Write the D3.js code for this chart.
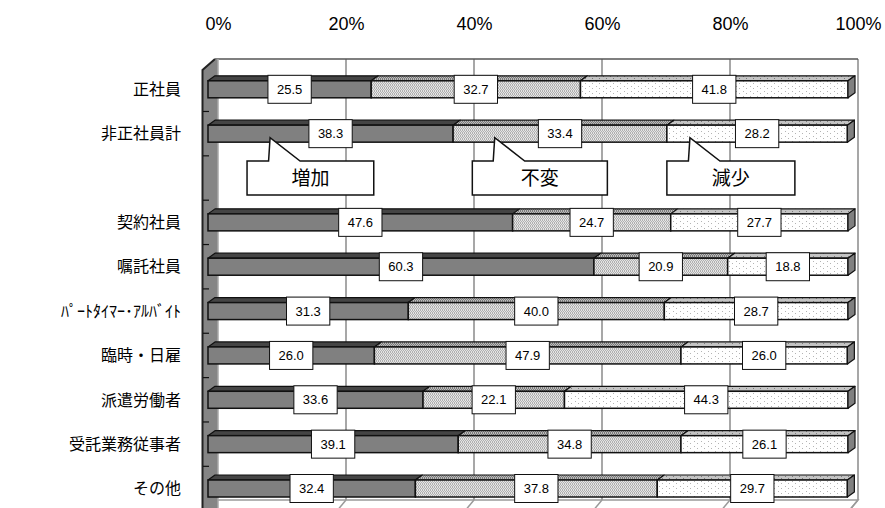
<!DOCTYPE html>
<html><head><meta charset="utf-8">
<script src="https://cdn.jsdelivr.net/npm/d3@7"></script>
<style>html,body{margin:0;padding:0;background:#fff;}svg{display:block;}</style>
</head><body>
<svg id="c" width="885" height="508"></svg>
<script>
// ---- data ----
const categories = ["正社員","非正社員計","契約社員","嘱託社員","ﾊﾟｰﾄﾀｲﾏｰ･ｱﾙﾊﾞｲﾄ","臨時・日雇","派遣労働者","受託業務従事者","その他"];
const seriesNames = ["増加","不変","減少"];
const increase = [25.5,38.3,47.6,60.3,31.3,26.0,33.6,39.1,32.4];
const unchanged = [32.7,33.4,24.7,20.9,40.0,47.9,22.1,34.8,37.8];
const decrease = [41.8,28.2,27.7,18.8,28.7,26.0,44.3,26.1,29.7];
const tickValues = [0,20,40,60,80,100];
const rowSlots = [0,1,3,4,5,6,7,8,9]; // slot 2 is left empty for the callouts

// ---- layout ----
const svg = d3.select("#c");
const DX = 10, DYF = 12;          // depth of the back plane
const BDX = 7, BDY = 5;           // depth of the bars
const x = d3.scaleLinear().domain([0,100]).range([208,848]);   // front plane
const xb = v => x(v) + DX;                                      // back plane
const y = d3.scaleLinear().domain([0,9]).range([89.3,488.5]);   // slot centres
const BAR_H = 17;
const TOP = 59, FLOOR = 500;

// patterns
const defs = svg.append("defs");
function pat(id, w, h, bg, dots, dc){
  const p = defs.append("pattern").attr("id",id).attr("patternUnits","userSpaceOnUse").attr("width",w).attr("height",h);
  p.append("rect").attr("width",w).attr("height",h).attr("fill",bg);
  dots.forEach(d=>p.append("rect").attr("x",d[0]).attr("y",d[1]).attr("width",1).attr("height",1).attr("fill",dc));
}
pat("sameF",2,3,"#e4e4e4",[[0,0],[0,1],[1,2]],"#b0b0b0");
pat("sameT",2,3,"#bcbcbc",[[0,0],[0,1],[1,2]],"#7a7a7a");
pat("decF",7,5,"#ffffff",[[1,1],[4,3]],"#b4b4b4");
pat("decT",7,5,"#c4c4c4",[[1,1],[4,3]],"#7a7a7a");
const frontFill = ["#808080","url(#sameF)","url(#decF)"];
const topFill = ["#454545","url(#sameT)","url(#decT)"];

// back plane
svg.append("rect").attr("x",xb(0)).attr("y",TOP).attr("width",xb(100)-xb(0)).attr("height",FLOOR-TOP).attr("fill","#fff");
// gridlines
svg.append("g").selectAll("line").data(tickValues.filter(t=>t>0)).join("line")
  .attr("x1",d=>xb(d)).attr("x2",d=>xb(d)).attr("y1",TOP).attr("y2",FLOOR)
  .attr("stroke","#8a8a8a").attr("stroke-width",1.5);
// floor
svg.append("path").attr("d",`M${xb(0)},${FLOOR}L${xb(100)},${FLOOR}L${x(100)},${FLOOR+DYF}L${x(0)},${FLOOR+DYF}Z`)
  .attr("fill","#fff").attr("stroke","#9a9a9a").attr("stroke-width",1.5);
svg.append("g").selectAll("line").data(tickValues).join("line")
  .attr("x1",d=>xb(d)).attr("x2",d=>x(d)).attr("y1",FLOOR).attr("y2",FLOOR+DYF)
  .attr("stroke","#9a9a9a").attr("stroke-width",1.5);
// top edge
svg.append("line").attr("x1",215).attr("x2",xb(100)).attr("y1",TOP).attr("y2",TOP).attr("stroke","#555").attr("stroke-width",1.5);

// left wall
svg.append("path").attr("d",`M202,70L215,${TOP}L${xb(0)},${TOP}L${xb(0)},520L202,520Z`)
  .attr("fill","#858585").attr("stroke","none");
svg.append("line").attr("x1",xb(0)).attr("x2",xb(0)).attr("y1",TOP).attr("y2",520).attr("stroke","#a8a8a8").attr("stroke-width",1.5);
svg.append("path").attr("d",`M202.5,520L202.5,70L215,${TOP}`).attr("fill","none").attr("stroke","#222").attr("stroke-width",2);
svg.append("g").selectAll("line").data(d3.range(9)).join("line")
  .attr("x1",203).attr("x2",209).attr("y1",d=>y(d+0.5)).attr("y2",d=>y(d+0.5))
  .attr("stroke","#111").attr("stroke-width",1.2);

// top axis labels
const ax = svg.append("g").attr("transform",`translate(0,30)`)
  .call(d3.axisTop(d3.scaleLinear().domain([0,100]).range([xb(0),xb(100)])).tickValues(tickValues).tickFormat(d=>d+"%").tickSize(0));
ax.select(".domain").remove();
ax.selectAll("text").attr("y",0).attr("dy",0).attr("fill","#000")
  .style("font-family","'Liberation Sans',Arial,sans-serif").style("font-size","18px");

// category labels
svg.append("g").selectAll("text").data(categories).join("text")
  .attr("x",181).attr("y",(d,i)=>y(rowSlots[i])).attr("dy","0.36em").attr("text-anchor","end")
  .style("font-family","'Noto Sans CJK JP',sans-serif").style("font-size","16px").attr("fill","#000")
  .text(d=>d);

// bars
const series = [increase, unchanged, decrease];
const gb = svg.append("g");
categories.forEach((c,i)=>{
  const cy = y(rowSlots[i]);
  const y0 = cy - BAR_H/2, y1 = cy + BAR_H/2;
  let acc = 0;
  const segs = series.map((s,k)=>{ const a = acc; acc += s[i]; return {k, a, b: acc, v: s[i]}; });
  segs.forEach(sg=>{
    const xa = x(sg.a), xe = x(Math.min(sg.b,100));
    gb.append("path").attr("d",`M${xa},${y0}L${xe},${y0}L${xe+BDX},${y0-BDY}L${xa+BDX},${y0-BDY}Z`)
      .attr("fill",topFill[sg.k]).attr("stroke","#111").attr("stroke-width",1.2).attr("stroke-linejoin","round");
    gb.append("rect").attr("x",xa).attr("y",y0).attr("width",xe-xa).attr("height",BAR_H)
      .attr("fill",frontFill[sg.k]).attr("stroke","#111").attr("stroke-width",1.5);
  });
  const xe = x(Math.min(acc,100));
  gb.append("path").attr("d",`M${xe},${y0}L${xe+BDX},${y0-BDY}L${xe+BDX},${y1-BDY}L${xe},${y1}Z`)
    .attr("fill","#808080").attr("stroke","#111").attr("stroke-width",1.2).attr("stroke-linejoin","round");
  // value labels
  segs.forEach(sg=>{
    const cx = (x(sg.a)+x(Math.min(sg.b,100)))/2;
    const g = gb.append("g");
    const t = g.append("text").attr("x",cx).attr("y",cy).attr("dy","0.36em").attr("text-anchor","middle")
      .style("font-family","'Liberation Sans',Arial,sans-serif").style("font-size","13px").attr("fill","#000")
      .text(sg.v.toFixed(1));
    const w = t.node().getComputedTextLength() + 18;
    g.insert("rect","text").attr("x",cx-w/2).attr("y",cy-14).attr("width",w).attr("height",28)
      .attr("fill","#fff").attr("stroke","#111").attr("stroke-width",1);
  });
});

// callouts
const callouts = [
  {name: seriesNames[0], left: 6.1, right: 25.9, tip: 9.7},
  {name: seriesNames[1], left: 41.3, right: 62.4, tip: 44.8},
  {name: seriesNames[2], left: 71.7, right: 91.7, tip: 75.3}
];
const gc = svg.append("g");
callouts.forEach(cobj=>{
  const bt = y(2)-17, bb = y(2)+17, ty = y(1)+4;
  const l = x(cobj.left), r = x(cobj.right), tx = x(cobj.tip);
  gc.append("path").attr("d",`M${l},${bt}L${tx-1.5},${bt}L${tx},${ty}L${tx+30},${bt}L${r},${bt}L${r},${bb}L${l},${bb}Z`)
    .attr("fill","#fff").attr("stroke","#111").attr("stroke-width",1.5).attr("stroke-linejoin","miter");
  gc.append("text").attr("x",(l+r)/2).attr("y",(bt+bb)/2).attr("dy","0.36em").attr("text-anchor","middle")
    .style("font-family","'Noto Sans CJK JP',sans-serif").style("font-size","19px").attr("fill","#000")
    .text(cobj.name);
});
</script>
</body></html>
